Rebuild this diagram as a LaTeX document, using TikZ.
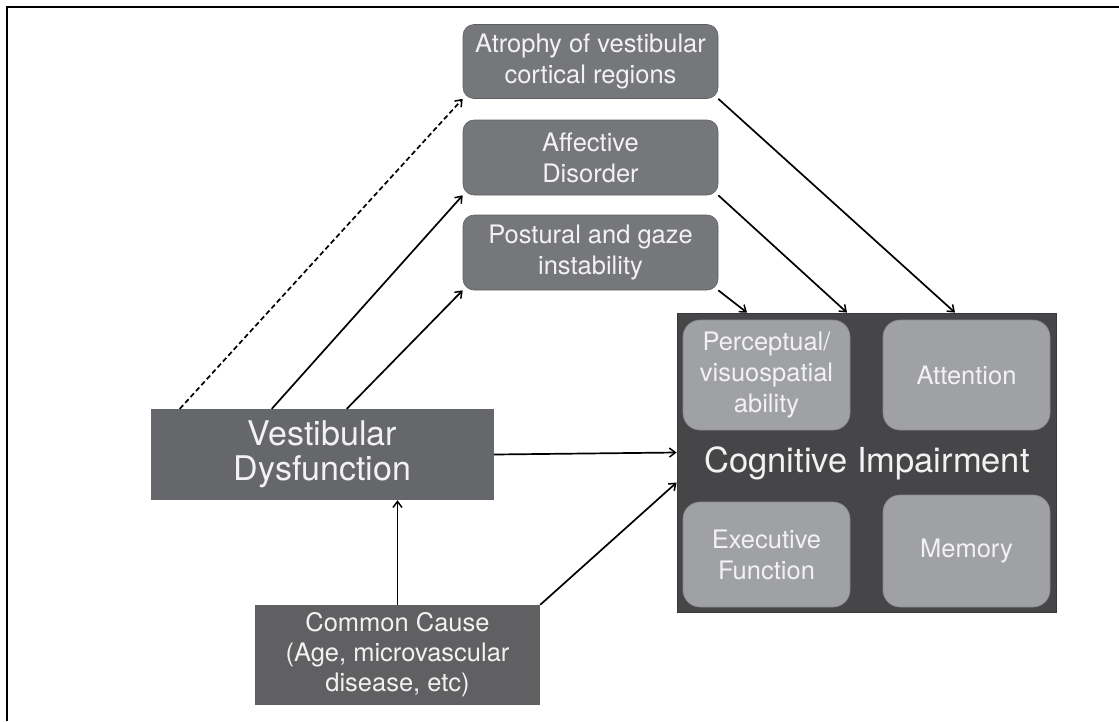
\documentclass[tikz,border=0pt]{standalone}
\usepackage{fontspec}
\setmainfont{TeX Gyre Heros}
\usetikzlibrary{arrows.meta}
\definecolor{topgray}{RGB}{118,119,123}
\definecolor{vesgray}{RGB}{102,103,106}
\definecolor{comgray}{RGB}{96,96,98}
\definecolor{cigray}{RGB}{70,70,73}
\definecolor{innergray}{RGB}{160,161,165}
\definecolor{txt}{RGB}{242,242,242}
\tikzset{
  topbox/.style={fill=topgray, draw=topgray!80!black, line width=0.6pt, rounded corners=11pt, text=txt, align=center, minimum width=255pt, inner sep=0pt, font=\fontsize{25.5}{31}\selectfont},
  innerbox/.style={fill=innergray, draw=innergray!85!black, line width=0.6pt, rounded corners=17pt, text=txt, align=center, minimum width=167pt, inner sep=0pt, font=\fontsize{25.5}{31}\selectfont},
  darkbox/.style={draw=none, text=txt, align=center, inner sep=0pt},
  conn/.style={line width=1.7pt, -{Straight Barb[length=6pt,width=9pt,line width=1.5pt]}},
}
\begin{document}
\begin{tikzpicture}[x=1pt,y=-1pt]
\useasboundingbox (0,0) rectangle (1119,721);
% frame
\draw[line width=2pt] (7,721) -- (7,7) -- (1119,7);
% top boxes
\node[topbox, minimum height=74pt] (atr) at (590.5,61.5) {Atrophy of vestibular\\cortical regions};
\node[topbox, minimum height=75pt] (aff) at (590.5,157.5) {Affective\\Disorder};
\node[topbox, minimum height=75pt] (pos) at (590.5,252.5) {Postural and gaze\\instability};
% cognitive impairment
\node[darkbox, fill=cigray, draw=cigray!80!black, line width=0.8pt, minimum width=379pt, minimum height=299pt] (ci) at (866.5,462.5) {};
\node[darkbox, font=\fontsize{34.5}{40}\selectfont] (citext) at (867,463) {Cognitive Impairment};
\node[innerbox, minimum height=110pt] (per) at (766.5,375) {Perceptual/\\visuospatial\\ability};
\node[innerbox, minimum height=110pt] (att) at (966.5,375) {Attention};
\node[innerbox, minimum height=105pt] (exe) at (766.5,554.5) {Executive\\Function};
\node[innerbox, minimum height=112pt] (mem) at (966.5,551) {Memory};
% vestibular
\node[darkbox, fill=vesgray, minimum width=343pt, minimum height=91pt, font=\fontsize{34}{35}\selectfont] (ves) at (322.5,454.5) {Vestibular\\Dysfunction};
% common cause
\node[darkbox, fill=comgray, minimum width=285pt, minimum height=100pt, font=\fontsize{25.5}{30}\selectfont] (com) at (397.5,655) {Common Cause\\(Age, microvascular\\disease, etc)};
% connectors
\draw[conn, dashed, dash pattern=on 5pt off 3pt] ([xshift=29pt]ves.north west) -- (atr.south west);
\draw[conn] ([xshift=121pt]ves.north west) -- (aff.south west);
\draw[conn] ([xshift=196pt]ves.north west) -- (pos.south west);
\draw[conn] (atr.south east) -- ([xshift=88.5pt]ci.north);
\draw[conn] (aff.south east) -- ([xshift=-19.5pt]ci.north);
\draw[conn] (pos.south east) -- ([xshift=-119.5pt]ci.north);
\draw[conn] (ves.east) -- ([yshift=10pt]ci.west);
\draw[conn] (com.north east) -- ([yshift=-20pt]ci.west);
\draw[conn] (com.north) -- (com.north |- ves.south);
\end{tikzpicture}
\end{document}
